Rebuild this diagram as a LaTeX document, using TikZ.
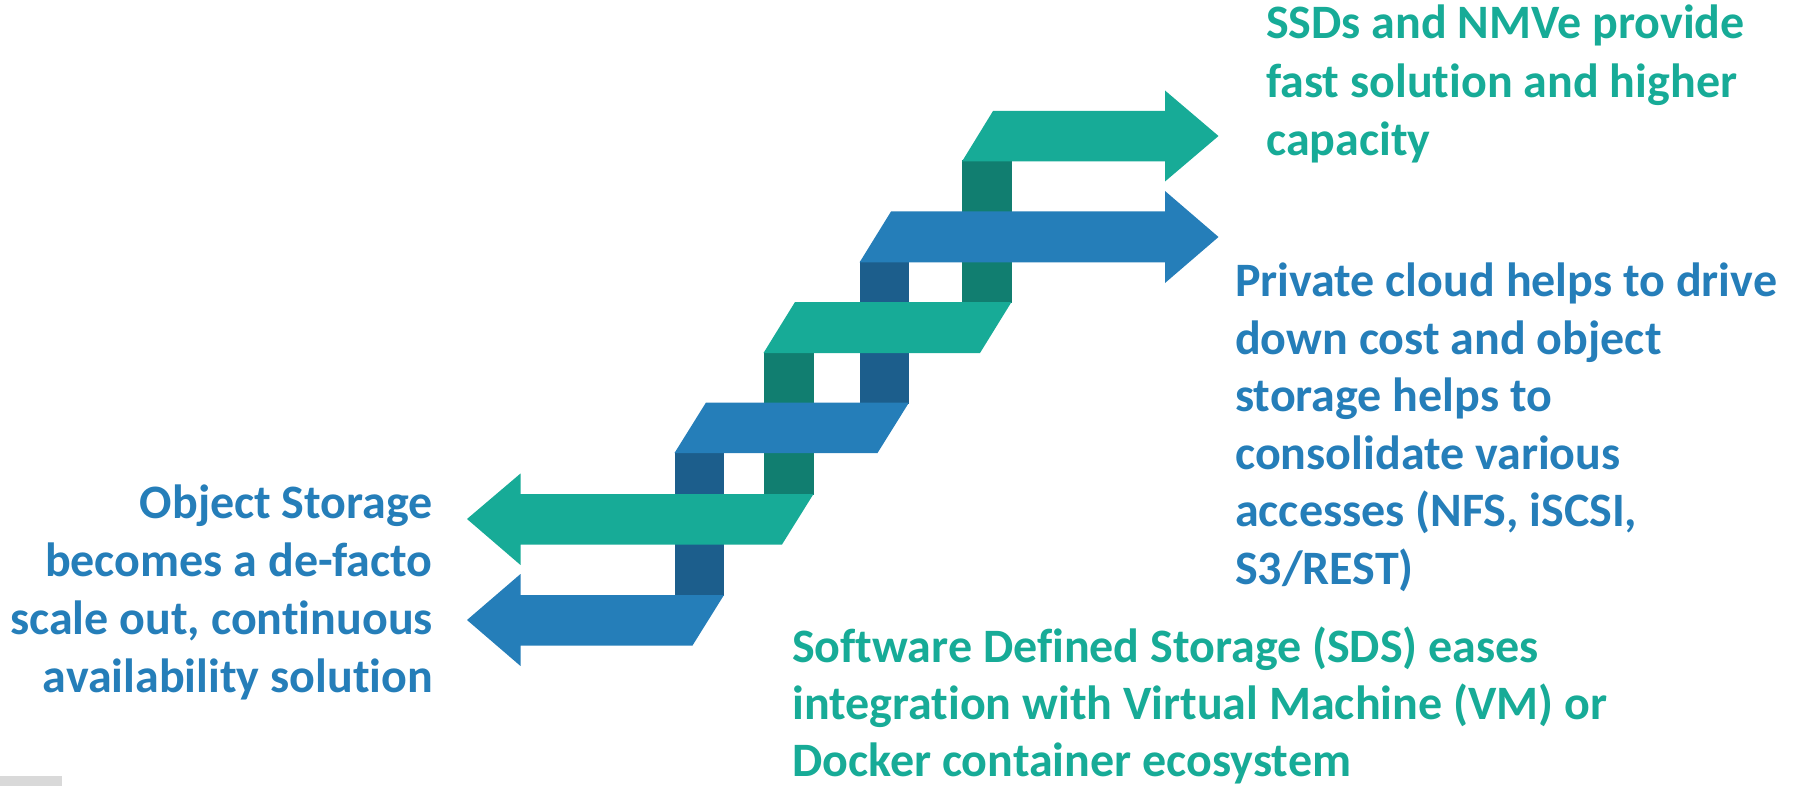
\documentclass[tikz,border=0pt]{standalone}
\usepackage{fontspec}
\setmainfont{Carlito}[Ligatures=NoCommon]
\definecolor{tealA}{RGB}{23,171,151}
\definecolor{tealD}{RGB}{17,126,112}
\definecolor{blueA}{RGB}{37,126,185}
\definecolor{blueD}{RGB}{28,94,140}
\definecolor{greyA}{RGB}{217,217,217}
\begin{document}
\begin{tikzpicture}[x=1pt,y=-1pt,
  txt/.style={inner sep=0pt, font=\fontsize{48}{58}\selectfont\bfseries},
  tealtxt/.style={txt, text=tealA},
  bluetxt/.style={txt, text=blueA}]
\useasboundingbox (0,0) rectangle (1795,786);
\fill[greyA] (0,776) rectangle (62,786);
% connectors (behind)
\fill[tealD] (962,160) rectangle (1011.5,303);
\fill[blueD] (859.5,261) rectangle (909,404);
\fill[tealD] (763.5,352) rectangle (813.5,495);
\fill[blueD] (674.5,452) rectangle (724,596);
% arrow 6 (teal, right)
\fill[tealA] (993,111) -- (1165,111) -- (1165,90.5) -- (1218.5,136) -- (1165,181.5) -- (1165,161.5) -- (962,161.5) -- cycle;
% arrow 5 (blue, right)
\fill[blueA] (891,211.5) -- (1165,211.5) -- (1165,191) -- (1218.5,237) -- (1165,283) -- (1165,262.5) -- (859.5,262.5) -- cycle;
% parallelogram 4 (teal)
\fill[tealA] (795,302) -- (1011.5,302) -- (980,353) -- (763.5,353) -- cycle;
% parallelogram 3 (blue)
\fill[blueA] (706,402.5) -- (909,402.5) -- (877.5,453) -- (674.5,453) -- cycle;
% arrow 2 (teal, left)
\fill[tealA] (813.5,494) -- (520.5,494) -- (520.5,473.5) -- (467,519) -- (520.5,565) -- (520.5,544.5) -- (782,544.5) -- cycle;
% arrow 1 (blue, left)
\fill[blueA] (724,595) -- (520.5,595) -- (520.5,574) -- (467,620) -- (520.5,666) -- (520.5,645.5) -- (692.5,645.5) -- cycle;
% texts
\node[tealtxt, anchor=base west] (s1) at (1266,39) {SSDs and NMVe provide};
\node[tealtxt, anchor=base west] (s2) at (1266,97.5) {fast solution and higher};
\node[tealtxt, anchor=base west] (s3) at (1266,156) {capacity};
\node[bluetxt, anchor=base west] (p1) at (1235,296.5) {Private cloud helps to drive};
\node[bluetxt, anchor=base west] (p2) at (1235,354) {down cost and object};
\node[bluetxt, anchor=base west] (p3) at (1235,411.5) {storage helps to};
\node[bluetxt, anchor=base west] (p4) at (1235,469) {consolidate various};
\node[bluetxt, anchor=base west] (p5) at (1235,526.5) {accesses (NFS, iSCSI,};
\node[bluetxt, anchor=base west] (p6) at (1235,584) {S3/REST)};
\node[bluetxt, anchor=base east] (o1) at (433,518) {Object Storage};
\node[bluetxt, anchor=base east] (o2) at (433,576.5) {becomes a de-facto};
\node[bluetxt, anchor=base east] (o3) at (433,634.5) {scale out, continuous};
\node[bluetxt, anchor=base east] (o4) at (433,692) {availability solution};
\node[tealtxt, anchor=base west] (d1) at (792,662) {Software Defined Storage (SDS) eases};
\node[tealtxt, anchor=base west] (d2) at (792,719.5) {integration with Virtual Machine (VM) or};
\node[tealtxt, anchor=base west] (d3) at (792,776) {Docker container ecosystem};
\end{tikzpicture}
\end{document}
